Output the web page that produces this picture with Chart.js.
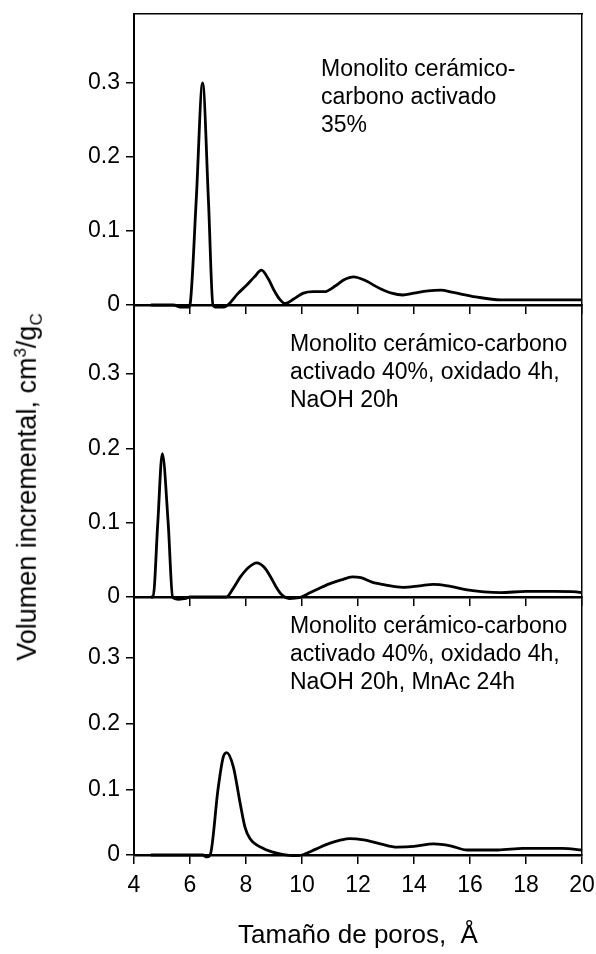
<!DOCTYPE html>
<html>
<head>
<meta charset="utf-8">
<script src="https://cdn.jsdelivr.net/npm/chart.js@4.4.1/dist/chart.umd.min.js"></script>
<style>
  body { margin: 0; background: #fff; }
  #page { position: relative; width: 596px; height: 954px; overflow: hidden; }
  #page canvas { position: absolute; left: 0; }
  #ytitle {
    position: absolute; left: 29px; top: 487px;
    transform: translate(-50%, -50%) rotate(-90deg);
    white-space: nowrap;
    font: 27px "Liberation Sans", Arial, sans-serif;
    color: #000;
  }
  #ytitle sup, #ytitle sub { font-size: 17px; }
</style>
</head>
<body>
<div id="page">
  <canvas id="p1" width="596" height="330" style="top:0px"></canvas>
  <canvas id="p2" width="596" height="340" style="top:290px"></canvas>
  <canvas id="p3" width="596" height="374" style="top:580px"></canvas>
  <div id="ytitle">Volumen incremental, cm<sup>3</sup>/g<sub>C</sub></div>
</div>
<script>
// Data (pore size in Å, incremental volume in cm3/gC)

const x35 = [4.6, 5.0, 5.4, 5.7, 5.95, 6.0, 6.22, 6.45, 6.66, 6.82, 6.95, 7.2, 7.35, 7.7, 8.0, 8.3, 8.55, 8.8, 9.0, 9.2, 9.4, 9.7, 10.05, 10.4, 10.8, 11.2, 11.5, 11.85, 12.2, 12.8, 13.2, 13.6, 14.0, 14.5, 14.95, 15.4, 16.2, 17.1, 18.0, 19.0, 20.0];
const v35 = [0, 0, 0, -0.003, -0.003, 0, 0.14, 0.30, 0.14, 0, -0.003, -0.003, 0, 0.015, 0.026, 0.038, 0.047, 0.035, 0.020, 0.008, 0.002, 0.008, 0.016, 0.018, 0.018, 0.026, 0.034, 0.038, 0.034, 0.022, 0.016, 0.0135, 0.016, 0.019, 0.020, 0.017, 0.011, 0.007, 0.007, 0.007, 0.007];

const x40 = [4.6, 4.68, 4.85, 5.01, 5.22, 5.38, 5.6, 5.85, 6.0, 7.3, 7.55, 7.8, 8.1, 8.38, 8.65, 8.88, 9.1, 9.25, 9.55, 9.9, 10.3, 10.7, 11.0, 11.4, 11.8, 12.1, 12.5, 13.0, 13.6, 14.2, 14.7, 15.2, 15.9, 16.5, 17.1, 18.0, 19.0, 19.8, 20.0];
const v40 = [0, 0, 0.10, 0.193, 0.10, 0, -0.003, -0.002, 0, 0, 0.012, 0.027, 0.040, 0.046, 0.040, 0.027, 0.012, 0.004, -0.002, -0.001, 0.006, 0.013, 0.018, 0.023, 0.027, 0.026, 0.020, 0.016, 0.013, 0.015, 0.017, 0.015, 0.0095, 0.007, 0.006, 0.0075, 0.0075, 0.007, 0.006];

const xMn = [4.6, 5.5, 6.45, 6.6, 6.72, 7.0, 7.18, 7.31, 7.55, 7.79, 7.96, 8.14, 8.62, 9.1, 9.8, 10.0, 10.5, 11.0, 11.4, 11.7, 12.2, 12.8, 13.4, 14.0, 14.7, 15.3, 15.9, 17.0, 17.9, 19.3, 20.0];
const vMn = [0, 0, 0, -0.003, 0, 0.10, 0.148, 0.156, 0.134, 0.079, 0.043, 0.025, 0.010, 0.003, -0.001, 0, 0.009, 0.018, 0.023, 0.025, 0.023, 0.017, 0.012, 0.013, 0.017, 0.014, 0.0076, 0.0076, 0.010, 0.010, 0.0076];

const xTicks = [4, 6, 8, 10, 12, 14, 16, 18, 20];
const yTicks = [0, 0.1, 0.2, 0.3];

const note35 = ['Monolito cerámico-', 'carbono activado', '35%'];
const note40 = ['Monolito cerámico-carbono', 'activado 40%, oxidado 4h,', 'NaOH 20h'];
const noteMn = ['Monolito cerámico-carbono', 'activado 40%, oxidado 4h,', 'NaOH 20h, MnAc 24h'];

const FONT = '"Liberation Sans", Arial, sans-serif';

// draws the sample description inside each panel
const notePlugin = {
  id: 'note',
  afterDatasetsDraw(chart, args, opts) {
    if (!opts.lines) return;
    const ctx = chart.ctx;
    const px = chart.scales.x.getPixelForValue(opts.x);
    const py = chart.scales.y.getPixelForValue(opts.y);
    ctx.save();
    ctx.font = '23px ' + FONT;
    ctx.fillStyle = '#000';
    ctx.textBaseline = 'alphabetic';
    opts.lines.forEach(function (t, i) {
      ctx.fillText(t, px, py + i * 28);
    });
    ctx.restore();
  }
};

// keep every panel's plot area at the same pixels, whatever the labels need
function fixBox(s, w, h) {
  if (w !== null) s.width = w;
  if (h !== null) s.height = h;
  s.paddingLeft = 0;
  s.paddingRight = 0;
  s.paddingTop = 0;
  s.paddingBottom = 0;
}

function makePanel(id, xs, ys, note, cfg) {
  const pts = xs.map(function (x, i) { return { x: x, y: ys[i] }; });
  const scales = {
    x: {
      type: 'linear', min: 4, max: 20,
      afterBuildTicks: function (s) { s.ticks = xTicks.map(function (v) { return { value: v }; }); },
      afterFit: function (s) { fixBox(s, null, cfg.xHeight); },
      grid: { drawOnChartArea: false, drawTicks: true, tickLength: 9, color: '#000', lineWidth: 1.5 },
      border: { display: true, color: '#000', width: 2.5 },
      ticks: { display: cfg.labels, color: '#000', padding: 8, font: { family: FONT, size: 23 } },
      title: {
        display: cfg.labels, text: 'Tamaño de poros,  Å', color: '#000',
        font: { family: FONT, size: 26 }, padding: { top: 0, bottom: 3 }
      }
    },
    y: {
      min: 0, max: 0.393,
      afterBuildTicks: function (s) { s.ticks = yTicks.map(function (v) { return { value: v }; }); },
      afterFit: function (s) { fixBox(s, 134, null); },
      grid: { drawOnChartArea: false, drawTicks: true, tickLength: 8, color: '#000', lineWidth: 1.5 },
      border: { display: true, color: '#000', width: 2 },
      ticks: { color: '#000', padding: 6, font: { family: FONT, size: 23 } }
    },
    yr: {
      position: 'right', min: 0, max: 0.393,
      afterFit: function (s) { fixBox(s, 0, null); },
      grid: { display: false, drawTicks: false },
      border: { display: true, color: '#000', width: 1.5 },
      ticks: { display: false }
    }
  };
  if (cfg.frameTop) {
    scales.xt = {
      type: 'linear', position: 'top', min: 4, max: 20,
      afterFit: function (s) { fixBox(s, null, 0); },
      grid: { display: false, drawTicks: false },
      border: { display: true, color: '#000', width: 1.5 },
      ticks: { display: false }
    };
  }
  return new Chart(document.getElementById(id), {
    type: 'line',
    data: {
      datasets: [{
        data: pts,
        borderColor: '#000',
        borderWidth: 2.8,
        pointRadius: 0,
        cubicInterpolationMode: 'monotone',
        fill: false,
        clip: 8
      }]
    },
    options: {
      responsive: false,
      animation: false,
      layout: { padding: { top: cfg.padTop, right: 14, bottom: 0, left: 0 } },
      scales: scales,
      plugins: {
        legend: { display: false },
        tooltip: { enabled: false },
        note: { lines: note, x: cfg.noteX, y: cfg.noteY }
      }
    },
    plugins: [notePlugin]
  });
}

makePanel('p1', x35, v35, note35, { padTop: 14, xHeight: 25, labels: false, frameTop: true, noteX: 10.68, noteY: 0.309 });
makePanel('p2', x40, v40, note40, { padTop: 15, xHeight: 33, labels: false, frameTop: false, noteX: 9.57, noteY: 0.331 });
makePanel('p3', xMn, vMn, noteMn, { padTop: 17, xHeight: 99, labels: true, frameTop: false, noteX: 9.57, noteY: 0.338 });
</script>
</body>
</html>
